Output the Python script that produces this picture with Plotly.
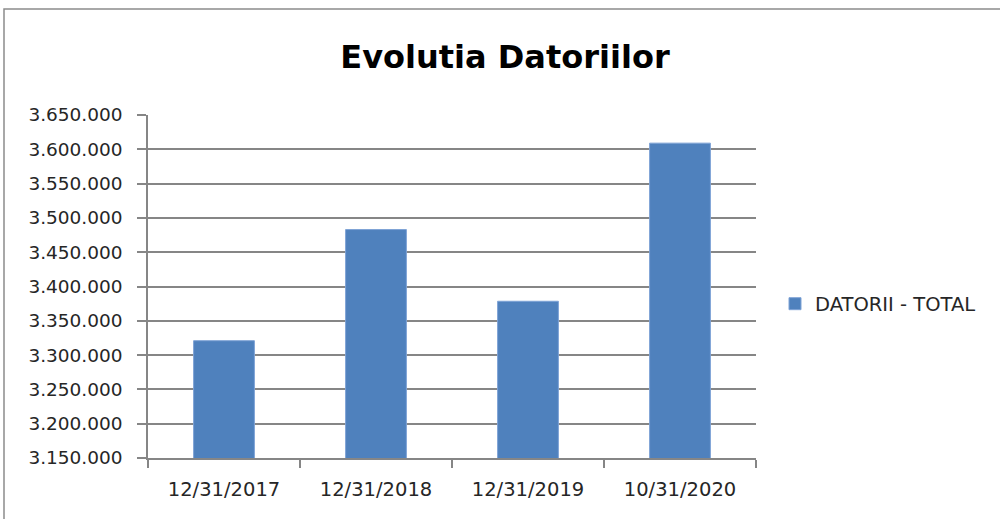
import plotly.graph_objects as go

categories = ["12/31/2017", "12/31/2018", "12/31/2019", "10/31/2020"]
values = [3321000, 3483000, 3378500, 3609000]
series_name = "DATORII - TOTAL"
title_text = "Evolutia Datoriilor"
y_ticks = [3150000 + 50000 * i for i in range(11)]

W, H = 1000, 519
FONT = "DejaVu Sans, Verdana, sans-serif"

fig = go.Figure()
fig.add_trace(go.Bar(
    x=categories, y=values, name=series_name,
    marker=dict(color="#4F81BD", line=dict(color="#7EA3D6", width=1)),
    showlegend=True,
))

fig.update_layout(
    width=W, height=H,
    margin=dict(l=0, r=0, t=0, b=0, autoexpand=False),
    paper_bgcolor="white", plot_bgcolor="white",
    separators=",.",
    font=dict(family=FONT, color="#262626"),
    title=dict(text="<b>" + title_text + "</b>", x=0.505, xanchor="center",
               y=1 - 57 / H, yanchor="middle", font=dict(size=32, color="black")),
    bargap=0.6,
    xaxis=dict(domain=[148 / W, 756 / W], type="category", automargin=False,
               showline=True, linecolor="#868686", linewidth=1.5,
               ticks="outside", tickson="boundaries", ticklen=8, tickcolor="#868686",
               tickwidth=1.5,
               tickfont=dict(size=19.5), ticklabelstandoff=13, showgrid=False),
    yaxis=dict(domain=[1 - 458 / H, 1 - 115 / H], range=[3150000, 3650000],
               automargin=False,
               tickvals=y_ticks, tickformat=",.0f",
               showline=True, linecolor="#868686", linewidth=1.5,
               ticks="outside", ticklen=9, tickcolor="#868686", tickwidth=1.5,
               ticklabelstandoff=11,
               showgrid=True, gridcolor="#868686", gridwidth=1.5,
               tickfont=dict(size=18.5), zeroline=False),
    legend=dict(x=775 / W, y=1 - 304 / H, xanchor="left", yanchor="middle",
                font=dict(size=19.5), bgcolor="rgba(0,0,0,0)",
                itemwidth=30),
    shapes=[dict(type="rect", xref="paper", yref="paper",
                 x0=4 / W, x1=1.02, y0=-0.05, y1=1 - 9 / H,
                 line=dict(color="#8c8c8c", width=1.5), fillcolor="rgba(0,0,0,0)")],
)

fig.write_html(
    "out.html",
    config={"displayModeBar": False},
    post_script="document.body.style.margin='0';document.body.style.overflow='hidden';",
)
